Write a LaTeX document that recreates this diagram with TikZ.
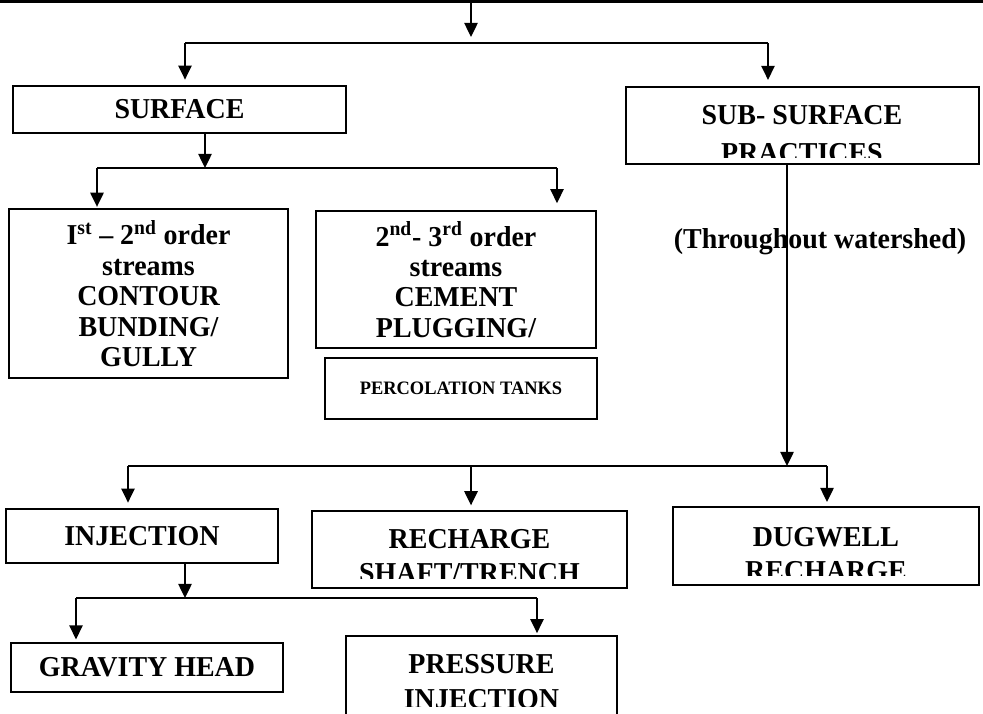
\documentclass[tikz,border=0pt]{standalone}
\usepackage{fontspec}
\setmainfont{Liberation Serif}[FakeStretch=0.97]
\usetikzlibrary{arrows.meta}

\begin{document}
\begin{tikzpicture}[
  x=0.025cm, y=-0.025cm,
  box/.style={draw, line width=1.1pt, inner sep=0pt, align=center, font=\fontsize{20.5}{21.6}\selectfont\bfseries},
  txt/.style={inner sep=0pt, align=center, font=\fontsize{20.5}{21}\selectfont\bfseries},
  link/.style={line width=1pt},
  arrow/.style={-{Triangle[length=10pt,width=9.5pt]}, line width=1pt}
]
\clip (0,0) rectangle (983,713);

\node[box, minimum width=8.325cm, minimum height=1.175cm] (surf) at (179.5,109.5) {SURFACE};
\node[box, minimum width=8.825cm, minimum height=1.925cm] (sub) at (802.5,125.5) {};
\begin{scope}
  \clip (626,87) rectangle (979,157);
  \node[txt] (subtxt) at (802,134) {SUB- SURFACE\\[5.5pt]PRACTICES};
\end{scope}

\node[box, minimum width=6.975cm, minimum height=4.225cm] (o12) at (148.5,293.5) {I\textsuperscript{st} -- 2\textsuperscript{nd} order\\streams\\CONTOUR\\BUNDING/\\GULLY};
\node[box, minimum width=7cm, minimum height=3.425cm] (o23) at (456,279.5) {2\textsuperscript{nd}- 3\textsuperscript{rd} order\\streams\\CEMENT\\PLUGGING/};
\node[box, minimum width=6.8cm, minimum height=1.525cm, font=\fontsize{13.5}{15}\selectfont\bfseries] (perc) at (461,388.5) {PERCOLATION TANKS};
\node[txt] (thr) at (820,242) {(Throughout watershed)};

\node[box, minimum width=6.8cm, minimum height=1.35cm] (inj) at (142,536) {INJECTION};
\node[box, minimum width=7.875cm, minimum height=1.925cm] (rech) at (469.5,549.5) {};
\begin{scope}
  \clip (312,511) rectangle (627,578);
  \node[txt] (rechtxt) at (469.5,555.7) {RECHARGE\\[3.2pt]SHAFT/TRENCH};
\end{scope}
\node[box, minimum width=7.65cm, minimum height=1.95cm] (dug) at (826,546) {};
\begin{scope}
  \clip (673,507) rectangle (979,575);
  \node[txt] (dugtxt) at (826,553.7) {DUGWELL\\[3.2pt]RECHARGE};
\end{scope}

\node[box, minimum width=6.8cm, minimum height=1.225cm] (grav) at (147,667.5) {GRAVITY HEAD};
\node[box, minimum width=6.775cm, minimum height=2.1cm] (press) at (481.5,678) {};
\begin{scope}
  \clip (346,636) rectangle (617,706);
  \node[txt] (presstxt) at (481.5,681.5) {PRESSURE\\[4pt]INJECTION};
\end{scope}

\coordinate (barL) at (0,1.5);
\coordinate (barR) at (983,1.5);
\coordinate (barM) at (471,1.5);
\coordinate (j0) at (471,37);
\draw[line width=2pt] (barL) -- (barR);
\draw[arrow] (barM) -- (j0);

\coordinate (sL) at (185,43);
\coordinate (sR) at (768,43);
\draw[link] (sL) -- (sR);
\draw[arrow, shorten >=4pt] (sL) -- (sL |- surf.north);
\draw[arrow, shorten >=4.5pt] (sR) -- (sR |- sub.north);

\coordinate (sj) at (205,168);
\coordinate (tL) at (97,168);
\coordinate (tR) at (557,168);
\draw[arrow] (surf.south -| sj) -- (sj);
\draw[link] (tL) -- (tR);
\draw[arrow, shorten >=1pt] (tL) -- (tL |- o12.north);
\draw[arrow, shorten >=5pt] (tR) -- (tR |- o23.north);

\coordinate (uj) at (787,466);
\coordinate (vL) at (128,466);
\coordinate (vM) at (471,466);
\coordinate (vR) at (827,466);
\draw[arrow] (sub.south -| uj) -- (uj);
\draw[link] (vL) -- (vR);
\draw[arrow, shorten >=4pt] (vL) -- (vL |- inj.north);
\draw[arrow, shorten >=3.5pt] (vM) -- (vM |- rech.north);
\draw[arrow, shorten >=3pt] (vR) -- (vR |- dug.north);

\coordinate (wj) at (185,598);
\coordinate (wL) at (76,598);
\coordinate (wR) at (537,598);
\draw[arrow] (inj.south -| wj) -- (wj);
\draw[link] (wL) -- (wR);
\draw[arrow, shorten >=2pt] (wL) -- (wL |- grav.north);
\draw[arrow, shorten >=1.5pt] (wR) -- (wR |- press.north);
\end{tikzpicture}
\end{document}
